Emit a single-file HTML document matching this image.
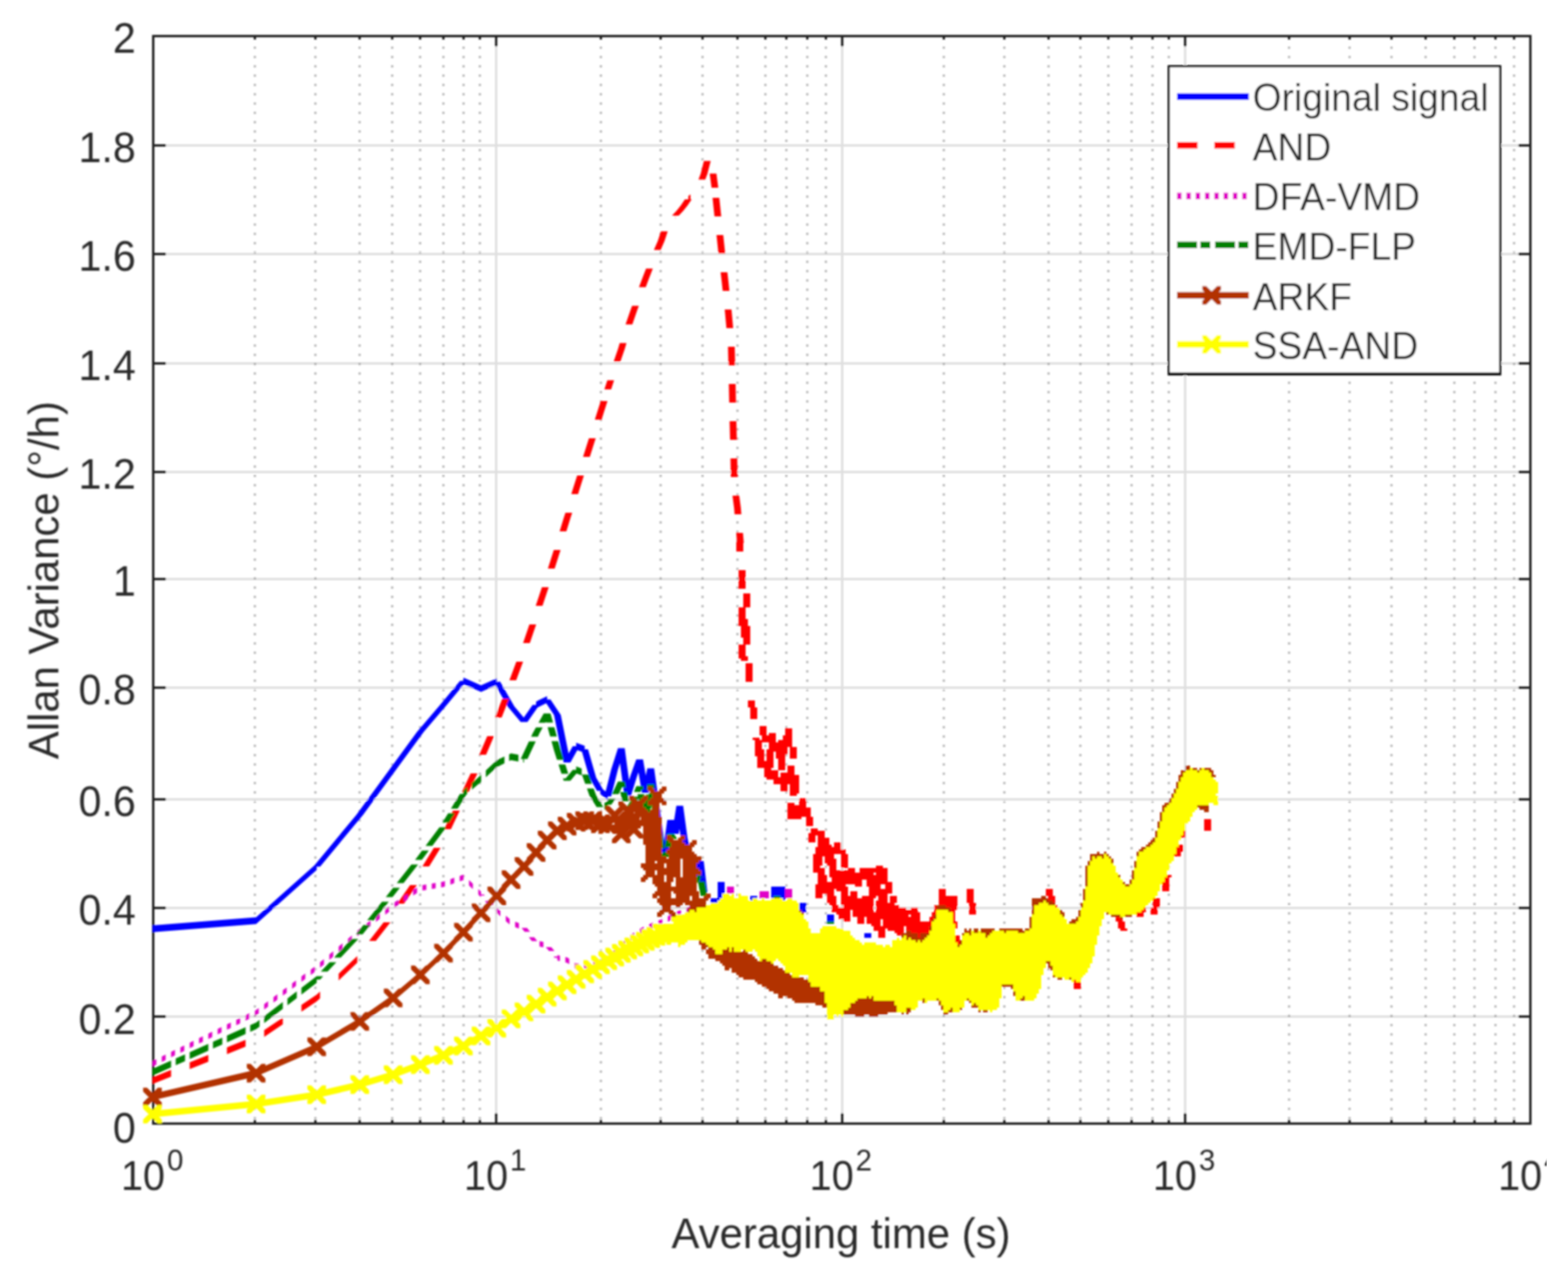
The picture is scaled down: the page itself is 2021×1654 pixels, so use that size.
<!DOCTYPE html>
<html lang="en"><head><meta charset="utf-8"><title>Allan Variance</title>
<style>
html,body{margin:0;padding:0;background:#fff;width:2021px;height:1654px;overflow:hidden}
svg text{font-family:"Liberation Sans",Arial,Helvetica,sans-serif}
</style></head>
<body>
<svg xmlns="http://www.w3.org/2000/svg" width="2021" height="1654" viewBox="0 0 2021 1654" style="position:absolute;left:0;top:0;display:block">
<defs><filter id="soft" filterUnits="userSpaceOnUse" x="0" y="0" width="2021" height="1654"><feGaussianBlur stdDeviation="0.8"/></filter></defs>
<rect x="0" y="0" width="2021" height="1654" fill="#fff"/>
<g id="figure" filter="url(#soft)">
<g id="grid" shape-rendering="crispEdges" fill="none">
<line x1="639.6" y1="46.5" x2="639.6" y2="1448.6" stroke="#dfdfdf" stroke-width="3"/>
<line x1="1085.1" y1="46.5" x2="1085.1" y2="1448.6" stroke="#dfdfdf" stroke-width="3"/>
<line x1="1527.5" y1="46.5" x2="1527.5" y2="1448.6" stroke="#dfdfdf" stroke-width="3"/>
<line x1="197.5" y1="187.0" x2="1972.5" y2="187.0" stroke="#dfdfdf" stroke-width="3"/>
<line x1="197.5" y1="327.5" x2="1972.5" y2="327.5" stroke="#dfdfdf" stroke-width="3"/>
<line x1="197.5" y1="468.0" x2="1972.5" y2="468.0" stroke="#dfdfdf" stroke-width="3"/>
<line x1="197.5" y1="608.4" x2="1972.5" y2="608.4" stroke="#dfdfdf" stroke-width="3"/>
<line x1="197.5" y1="746.1" x2="1972.5" y2="746.1" stroke="#dfdfdf" stroke-width="3"/>
<line x1="197.5" y1="886.5" x2="1972.5" y2="886.5" stroke="#dfdfdf" stroke-width="3"/>
<line x1="197.5" y1="1030.1" x2="1972.5" y2="1030.1" stroke="#dfdfdf" stroke-width="3"/>
<line x1="197.5" y1="1170.5" x2="1972.5" y2="1170.5" stroke="#dfdfdf" stroke-width="3"/>
<line x1="197.5" y1="1310.8" x2="1972.5" y2="1310.8" stroke="#dfdfdf" stroke-width="3"/>
<line x1="328.8" y1="48" x2="328.8" y2="1448.6" stroke="#000" stroke-opacity="0.27" stroke-width="3" stroke-dasharray="3 9"/>
<line x1="406.5" y1="48" x2="406.5" y2="1448.6" stroke="#000" stroke-opacity="0.27" stroke-width="3" stroke-dasharray="3 9"/>
<line x1="463.4" y1="48" x2="463.4" y2="1448.6" stroke="#000" stroke-opacity="0.27" stroke-width="3" stroke-dasharray="3 9"/>
<line x1="505.5" y1="48" x2="505.5" y2="1448.6" stroke="#000" stroke-opacity="0.27" stroke-width="3" stroke-dasharray="3 9"/>
<line x1="541.1" y1="48" x2="541.1" y2="1448.6" stroke="#000" stroke-opacity="0.27" stroke-width="3" stroke-dasharray="3 9"/>
<line x1="571.0" y1="48" x2="571.0" y2="1448.6" stroke="#000" stroke-opacity="0.27" stroke-width="3" stroke-dasharray="3 9"/>
<line x1="597.8" y1="48" x2="597.8" y2="1448.6" stroke="#000" stroke-opacity="0.27" stroke-width="3" stroke-dasharray="3 9"/>
<line x1="618.7" y1="48" x2="618.7" y2="1448.6" stroke="#000" stroke-opacity="0.27" stroke-width="3" stroke-dasharray="3 9"/>
<line x1="774.4" y1="48" x2="774.4" y2="1448.6" stroke="#000" stroke-opacity="0.27" stroke-width="3" stroke-dasharray="3 9"/>
<line x1="851.8" y1="48" x2="851.8" y2="1448.6" stroke="#000" stroke-opacity="0.27" stroke-width="3" stroke-dasharray="3 9"/>
<line x1="905.6" y1="48" x2="905.6" y2="1448.6" stroke="#000" stroke-opacity="0.27" stroke-width="3" stroke-dasharray="3 9"/>
<line x1="950.5" y1="48" x2="950.5" y2="1448.6" stroke="#000" stroke-opacity="0.27" stroke-width="3" stroke-dasharray="3 9"/>
<line x1="986.4" y1="48" x2="986.4" y2="1448.6" stroke="#000" stroke-opacity="0.27" stroke-width="3" stroke-dasharray="3 9"/>
<line x1="1013.4" y1="48" x2="1013.4" y2="1448.6" stroke="#000" stroke-opacity="0.27" stroke-width="3" stroke-dasharray="3 9"/>
<line x1="1040.1" y1="48" x2="1040.1" y2="1448.6" stroke="#000" stroke-opacity="0.27" stroke-width="3" stroke-dasharray="3 9"/>
<line x1="1064.2" y1="48" x2="1064.2" y2="1448.6" stroke="#000" stroke-opacity="0.27" stroke-width="3" stroke-dasharray="3 9"/>
<line x1="1216.6" y1="48" x2="1216.6" y2="1448.6" stroke="#000" stroke-opacity="0.27" stroke-width="3" stroke-dasharray="3 9"/>
<line x1="1294.4" y1="48" x2="1294.4" y2="1448.6" stroke="#000" stroke-opacity="0.27" stroke-width="3" stroke-dasharray="3 9"/>
<line x1="1351.1" y1="48" x2="1351.1" y2="1448.6" stroke="#000" stroke-opacity="0.27" stroke-width="3" stroke-dasharray="3 9"/>
<line x1="1392.9" y1="48" x2="1392.9" y2="1448.6" stroke="#000" stroke-opacity="0.27" stroke-width="3" stroke-dasharray="3 9"/>
<line x1="1428.6" y1="48" x2="1428.6" y2="1448.6" stroke="#000" stroke-opacity="0.27" stroke-width="3" stroke-dasharray="3 9"/>
<line x1="1458.5" y1="48" x2="1458.5" y2="1448.6" stroke="#000" stroke-opacity="0.27" stroke-width="3" stroke-dasharray="3 9"/>
<line x1="1485.5" y1="48" x2="1485.5" y2="1448.6" stroke="#000" stroke-opacity="0.27" stroke-width="3" stroke-dasharray="3 9"/>
<line x1="1506.4" y1="48" x2="1506.4" y2="1448.6" stroke="#000" stroke-opacity="0.27" stroke-width="3" stroke-dasharray="3 9"/>
<line x1="1661.8" y1="48" x2="1661.8" y2="1448.6" stroke="#000" stroke-opacity="0.27" stroke-width="3" stroke-dasharray="3 9"/>
<line x1="1739.5" y1="48" x2="1739.5" y2="1448.6" stroke="#000" stroke-opacity="0.27" stroke-width="3" stroke-dasharray="3 9"/>
<line x1="1793.3" y1="48" x2="1793.3" y2="1448.6" stroke="#000" stroke-opacity="0.27" stroke-width="3" stroke-dasharray="3 9"/>
<line x1="1837.9" y1="48" x2="1837.9" y2="1448.6" stroke="#000" stroke-opacity="0.27" stroke-width="3" stroke-dasharray="3 9"/>
<line x1="1874.1" y1="48" x2="1874.1" y2="1448.6" stroke="#000" stroke-opacity="0.27" stroke-width="3" stroke-dasharray="3 9"/>
<line x1="1900.9" y1="48" x2="1900.9" y2="1448.6" stroke="#000" stroke-opacity="0.27" stroke-width="3" stroke-dasharray="3 9"/>
<line x1="1927.8" y1="48" x2="1927.8" y2="1448.6" stroke="#000" stroke-opacity="0.27" stroke-width="3" stroke-dasharray="3 9"/>
<line x1="1951.8" y1="48" x2="1951.8" y2="1448.6" stroke="#000" stroke-opacity="0.27" stroke-width="3" stroke-dasharray="3 9"/>
</g>
<g id="axes" shape-rendering="crispEdges" stroke="#1c1c1c" stroke-width="3" fill="none">
<rect x="197.5" y="46.5" width="1775.0" height="1402.1"/>
<line x1="328.8" y1="1448.6" x2="328.8" y2="1444.1"/>
<line x1="328.8" y1="46.5" x2="328.8" y2="51.0"/>
<line x1="406.5" y1="1448.6" x2="406.5" y2="1444.1"/>
<line x1="406.5" y1="46.5" x2="406.5" y2="51.0"/>
<line x1="463.4" y1="1448.6" x2="463.4" y2="1444.1"/>
<line x1="463.4" y1="46.5" x2="463.4" y2="51.0"/>
<line x1="505.5" y1="1448.6" x2="505.5" y2="1444.1"/>
<line x1="505.5" y1="46.5" x2="505.5" y2="51.0"/>
<line x1="541.1" y1="1448.6" x2="541.1" y2="1444.1"/>
<line x1="541.1" y1="46.5" x2="541.1" y2="51.0"/>
<line x1="571.0" y1="1448.6" x2="571.0" y2="1444.1"/>
<line x1="571.0" y1="46.5" x2="571.0" y2="51.0"/>
<line x1="597.8" y1="1448.6" x2="597.8" y2="1444.1"/>
<line x1="597.8" y1="46.5" x2="597.8" y2="51.0"/>
<line x1="618.7" y1="1448.6" x2="618.7" y2="1444.1"/>
<line x1="618.7" y1="46.5" x2="618.7" y2="51.0"/>
<line x1="639.6" y1="1448.6" x2="639.6" y2="1435.1"/>
<line x1="639.6" y1="46.5" x2="639.6" y2="60.0"/>
<line x1="774.4" y1="1448.6" x2="774.4" y2="1444.1"/>
<line x1="774.4" y1="46.5" x2="774.4" y2="51.0"/>
<line x1="851.8" y1="1448.6" x2="851.8" y2="1444.1"/>
<line x1="851.8" y1="46.5" x2="851.8" y2="51.0"/>
<line x1="905.6" y1="1448.6" x2="905.6" y2="1444.1"/>
<line x1="905.6" y1="46.5" x2="905.6" y2="51.0"/>
<line x1="950.5" y1="1448.6" x2="950.5" y2="1444.1"/>
<line x1="950.5" y1="46.5" x2="950.5" y2="51.0"/>
<line x1="986.4" y1="1448.6" x2="986.4" y2="1444.1"/>
<line x1="986.4" y1="46.5" x2="986.4" y2="51.0"/>
<line x1="1013.4" y1="1448.6" x2="1013.4" y2="1444.1"/>
<line x1="1013.4" y1="46.5" x2="1013.4" y2="51.0"/>
<line x1="1040.1" y1="1448.6" x2="1040.1" y2="1444.1"/>
<line x1="1040.1" y1="46.5" x2="1040.1" y2="51.0"/>
<line x1="1064.2" y1="1448.6" x2="1064.2" y2="1444.1"/>
<line x1="1064.2" y1="46.5" x2="1064.2" y2="51.0"/>
<line x1="1085.1" y1="1448.6" x2="1085.1" y2="1435.1"/>
<line x1="1085.1" y1="46.5" x2="1085.1" y2="60.0"/>
<line x1="1216.6" y1="1448.6" x2="1216.6" y2="1444.1"/>
<line x1="1216.6" y1="46.5" x2="1216.6" y2="51.0"/>
<line x1="1294.4" y1="1448.6" x2="1294.4" y2="1444.1"/>
<line x1="1294.4" y1="46.5" x2="1294.4" y2="51.0"/>
<line x1="1351.1" y1="1448.6" x2="1351.1" y2="1444.1"/>
<line x1="1351.1" y1="46.5" x2="1351.1" y2="51.0"/>
<line x1="1392.9" y1="1448.6" x2="1392.9" y2="1444.1"/>
<line x1="1392.9" y1="46.5" x2="1392.9" y2="51.0"/>
<line x1="1428.6" y1="1448.6" x2="1428.6" y2="1444.1"/>
<line x1="1428.6" y1="46.5" x2="1428.6" y2="51.0"/>
<line x1="1458.5" y1="1448.6" x2="1458.5" y2="1444.1"/>
<line x1="1458.5" y1="46.5" x2="1458.5" y2="51.0"/>
<line x1="1485.5" y1="1448.6" x2="1485.5" y2="1444.1"/>
<line x1="1485.5" y1="46.5" x2="1485.5" y2="51.0"/>
<line x1="1506.4" y1="1448.6" x2="1506.4" y2="1444.1"/>
<line x1="1506.4" y1="46.5" x2="1506.4" y2="51.0"/>
<line x1="1527.5" y1="1448.6" x2="1527.5" y2="1435.1"/>
<line x1="1527.5" y1="46.5" x2="1527.5" y2="60.0"/>
<line x1="1661.8" y1="1448.6" x2="1661.8" y2="1444.1"/>
<line x1="1661.8" y1="46.5" x2="1661.8" y2="51.0"/>
<line x1="1739.5" y1="1448.6" x2="1739.5" y2="1444.1"/>
<line x1="1739.5" y1="46.5" x2="1739.5" y2="51.0"/>
<line x1="1793.3" y1="1448.6" x2="1793.3" y2="1444.1"/>
<line x1="1793.3" y1="46.5" x2="1793.3" y2="51.0"/>
<line x1="1837.9" y1="1448.6" x2="1837.9" y2="1444.1"/>
<line x1="1837.9" y1="46.5" x2="1837.9" y2="51.0"/>
<line x1="1874.1" y1="1448.6" x2="1874.1" y2="1444.1"/>
<line x1="1874.1" y1="46.5" x2="1874.1" y2="51.0"/>
<line x1="1900.9" y1="1448.6" x2="1900.9" y2="1444.1"/>
<line x1="1900.9" y1="46.5" x2="1900.9" y2="51.0"/>
<line x1="1927.8" y1="1448.6" x2="1927.8" y2="1444.1"/>
<line x1="1927.8" y1="46.5" x2="1927.8" y2="51.0"/>
<line x1="1951.8" y1="1448.6" x2="1951.8" y2="1444.1"/>
<line x1="1951.8" y1="46.5" x2="1951.8" y2="51.0"/>
<line x1="197.5" y1="187.0" x2="213.5" y2="187.0"/>
<line x1="1972.5" y1="187.0" x2="1956.5" y2="187.0"/>
<line x1="197.5" y1="327.5" x2="213.5" y2="327.5"/>
<line x1="1972.5" y1="327.5" x2="1956.5" y2="327.5"/>
<line x1="197.5" y1="468.0" x2="213.5" y2="468.0"/>
<line x1="1972.5" y1="468.0" x2="1956.5" y2="468.0"/>
<line x1="197.5" y1="608.4" x2="213.5" y2="608.4"/>
<line x1="1972.5" y1="608.4" x2="1956.5" y2="608.4"/>
<line x1="197.5" y1="746.1" x2="213.5" y2="746.1"/>
<line x1="1972.5" y1="746.1" x2="1956.5" y2="746.1"/>
<line x1="197.5" y1="886.5" x2="213.5" y2="886.5"/>
<line x1="1972.5" y1="886.5" x2="1956.5" y2="886.5"/>
<line x1="197.5" y1="1030.1" x2="213.5" y2="1030.1"/>
<line x1="1972.5" y1="1030.1" x2="1956.5" y2="1030.1"/>
<line x1="197.5" y1="1170.5" x2="213.5" y2="1170.5"/>
<line x1="1972.5" y1="1170.5" x2="1956.5" y2="1170.5"/>
<line x1="197.5" y1="1310.8" x2="213.5" y2="1310.8"/>
<line x1="1972.5" y1="1310.8" x2="1956.5" y2="1310.8"/>
</g>
<g id="curves">
<g id="c-original"><path d="M196.5 1193.1L330.1 1182.6L330.1 1191.2L196.5 1201.8zM330.1 1182.6L408.2 1112.9L408.2 1121.5L330.1 1191.2zM403.9 1117.2L459.3 1050.4L468 1050.4L412.6 1117.2zM459.3 1050.4L502.4 991.5L511.1 991.5L468 1050.4zM502.4 991.5L537.5 943.6L546.2 943.6L511.1 991.5zM537.5 943.6L567.2 908.7L575.9 908.7L546.2 943.6zM567.2 908.7L592.9 877.8L601.6 877.8L575.9 908.7zM597.3 873.4L620 883.4L620 892.1L597.3 882.1zM620 883.4L640.3 874.4L640.3 883.1L620 892.1zM644.6 878.8L663 910.7L654.3 910.7L635.9 878.8zM663 910.7L679.8 930.7L671.1 930.7L654.3 910.7zM671.1 930.7L686.5 908.7L695.2 908.7L679.8 930.7zM690.9 904.4L705.2 897.4L705.2 906.1L690.9 913.1zM709.5 901.7L722.8 921.7L714.1 921.7L700.8 901.7zM722.8 921.7L735.2 983L726.5 983L714.1 921.7zM726.5 983L738.2 962L746.9 962L735.2 983zM742.6 957.6L753.6 961.6L753.6 970.4L742.6 966.4zM757.9 966L768.4 1002.5L759.7 1002.5L749.2 966zM768.4 1002.5L778.2 1019.5L769.5 1019.5L759.7 1002.5zM773.9 1015.1L783.3 1022.4L783.3 1031L773.9 1023.9zM779 1026.7L787.9 991.4L796.6 991.4L787.7 1026.7zM787.9 991.4L796.5 964.5L805.2 964.5L796.6 991.4zM805.2 964.5L813.4 1025.5L804.7 1025.5L796.5 964.5zM804.7 1025.5L812.6 1000L821.3 1000L813.4 1025.5zM812.6 1000L820.1 979L828.8 979L821.3 1000zM828.8 979L836.1 1022L827.4 1022L820.1 979zM827.4 1022L834.4 990.5L843.1 990.5L836.1 1022zM843.1 990.5L849.9 1039L841.2 1039L834.4 990.5zM849.9 1039L856.4 1087L847.7 1087L841.2 1039zM856.4 1087L862.7 1100L854 1100L847.7 1087zM854 1100L860.1 1057L868.8 1057L862.7 1100zM868.8 1057L874.8 1075L866.1 1075L860.1 1057zM866.1 1075L871.8 1038.8L880.5 1038.8L874.8 1075zM880.5 1038.8L886.1 1080L877.4 1080L871.8 1038.8zM886.1 1080L891.5 1105L882.8 1105L877.4 1080zM891.5 1105L896.8 1123L888.1 1123L882.8 1105zM896.8 1123L902 1130L893.3 1130L888.1 1123zM893.3 1130L898.3 1110L907 1110L902 1130zM907 1110L911.8 1150L903.1 1150L898.3 1110z" fill="#0000ff"/><path shape-rendering="crispEdges" fill="#0000ff" d="M925 1137h9v15h-9zM994 1143h18v12h-18zM925 1152h6v6h-6zM967 1155h9v3h-9zM994 1155h3v3h-3zM1006 1155h6v3h-6zM916 1158h12v3h-12zM967 1158h3v3h-3zM1009 1158h3v3h-3zM916 1161h9v3h-9zM1030 1164h9v9h-9zM1033 1173h6v3h-6zM1066 1179h9v9h-9zM1114 1203h9v6h-9z"/></g>
<g id="c-and"><path d="M196.5 1389L220.5 1379.3L220.5 1388L196.5 1397.6zM244.5 1369.6L268.5 1360L268.5 1368.7L244.5 1378.3zM292.5 1350.3L316.5 1340.6L316.5 1349.3L292.5 1359zM340.5 1328.1L364.5 1311.9L364.5 1320.6L340.5 1336.8zM388.5 1295.6L408.2 1282.2L408.2 1290.9L388.5 1304.3zM408.2 1282.2L412.5 1278.2L412.5 1286.9L408.2 1290.9zM436.5 1255.3L460.5 1232.4L460.5 1241.1L436.5 1264zM475.7 1212.9L494.5 1188.9L503.2 1188.9L484.4 1212.9zM512 1164.9L528.6 1140.9L537.3 1140.9L520.7 1164.9zM544.4 1116.9L559.2 1092.9L567.9 1092.9L553.1 1116.9zM572.5 1068.9L583.9 1044.9L592.6 1044.9L581.2 1068.9zM595.4 1020.9L606.7 996.9L615.4 996.9L604.1 1020.9zM617.8 972.9L628 948.9L636.7 948.9L626.5 972.9zM637.9 924.9L647.3 900.9L656 900.9L646.6 924.9zM656.6 876.9L665.5 852.9L674.2 852.9L665.3 876.9zM674.2 828.9L682.4 804.9L691.1 804.9L682.9 828.9zM690.5 780.9L698.5 756.9L707.2 756.9L699.2 780.9zM706.2 732.9L713.8 708.9L722.5 708.9L714.9 732.9zM721.3 684.9L726.5 668L735.2 668L730 684.9zM726.5 668L728.8 660.9L737.5 660.9L735.2 668zM736.4 636.9L738.2 631L746.9 631L745.1 636.9zM738.2 631L743.9 612.9L752.6 612.9L746.9 631zM751.5 588.9L759.1 564.9L767.8 564.9L760.2 588.9zM766.7 540.9L769.5 532L778.2 532L775.4 540.9zM769.5 532L774.3 516.9L783 516.9L778.2 532zM779 502L782.8 490.3L791.5 490.3L787.7 502zM790.9 466.3L796.5 450L805.2 450L799.6 466.3zM796.5 450L798.8 442.3L807.5 442.3L805.2 450zM806.3 418.3L812.6 400L821.3 400L815 418.3zM812.6 400L814.7 394.3L823.4 394.3L821.3 400zM823.6 370.3L827.4 360L836.1 360L832.3 370.3zM827.4 360L832.7 346.3L841.4 346.3L836.1 360zM842.8 322.3L847.7 311L856.4 311L851.5 322.3zM847.7 311L851.9 298.3L860.6 298.3L856.4 311zM870.2 273.7L870.4 273.6L870.4 282.4L870.2 282.4zM866.1 278L871.8 272L880.5 272L874.8 278zM871.8 272L877.4 265L886.1 265L880.5 272zM877.4 265L882.8 257L891.5 257L886.1 265zM887.2 252.7L890 250.6L890 259.3L887.2 261.4zM900.3 231.5L903.1 224L911.8 224L909 231.5zM903.1 224L907.3 207.5L916 207.5L911.8 224zM923.4 223.8L925.8 242L917.1 242L914.7 223.8zM927.1 254.9L929.6 278.9L920.9 278.9L918.4 254.9zM932.2 302.9L934.5 325L925.8 325L923.5 302.9zM934.5 325L934.8 326.9L926.1 326.9L925.8 325zM937.5 350.9L938.8 362L930.1 362L928.8 350.9zM938.8 362L940.2 374.9L931.5 374.9L930.1 362zM942.8 398.9L942.9 400L934.2 400L934.1 398.9zM942.9 400L945 422.9L936.3 422.9L934.2 400zM947 446.9L947.6 470.9L938.9 470.9L938.3 446.9zM948.1 494.9L948.6 518.9L939.9 518.9L939.4 494.9zM949.1 542.9L949.7 566.9L941 566.9L940.4 542.9zM950.2 590.9L950.7 614.9L942 614.9L941.5 590.9zM952.8 638.9L954.9 655L946.2 655L944.1 638.9zM954.9 655L955.5 662.9L946.8 662.9L946.2 655zM957.6 686.9L958.7 700L950 700L948.9 686.9z" fill="#ff0000"/><path shape-rendering="crispEdges" fill="#ff0000" d="M949 699h9v12h-9zM952 735h9v24h-9zM958 765h9v18h-9zM952 783h9v15h-9zM952 798h12v9h-12zM955 807h12v15h-12zM958 822h9v9h-9zM952 831h9v15h-9zM952 846h12v3h-12zM955 849h9v3h-9zM961 855h9v24h-9zM964 903h9v9h-9zM967 912h9v15h-9zM979 936h9v12h-9zM1012 939h9v9h-9zM991 945h9v3h-9zM982 948h18v6h-18zM1009 948h12v6h-12zM970 951h9v3h-9zM973 954h27v3h-27zM1003 954h18v3h-18zM973 957h9v9h-9zM991 957h30v6h-30zM991 963h24v3h-24zM1018 963h9v15h-9zM973 966h12v9h-12zM988 966h27v3h-27zM988 969h9v12h-9zM1000 969h15v3h-15zM1000 972h12v6h-12zM976 975h9v6h-9zM1003 978h9v15h-9zM976 981h21v9h-21zM1015 987h9v9h-9zM985 990h9v3h-9zM985 993h18v9h-18zM1006 996h18v3h-18zM1006 999h24v3h-24zM988 1002h42v3h-42zM997 1005h33v6h-33zM1006 1011h9v9h-9zM1018 1011h12v12h-12zM1018 1023h9v3h-9zM1030 1029h9v9h-9zM1015 1035h9v3h-9zM1015 1038h24v3h-24zM1015 1041h30v12h-30zM1015 1053h18v3h-18zM1039 1053h9v12h-9zM1552 1056h9v15h-9zM1045 1068h9v3h-9zM1045 1071h18v3h-18zM1525 1071h3v6h-3zM1042 1074h21v3h-21zM1042 1077h9v9h-9zM1054 1077h9v3h-9zM1522 1077h6v3h-6zM1054 1080h15v9h-15zM1075 1086h9v6h-9zM1054 1089h18v3h-18zM1519 1089h6v3h-6zM1051 1092h33v3h-33zM1516 1092h9v6h-9zM1051 1095h39v6h-39zM1516 1098h6v3h-6zM1048 1101h27v3h-27zM1084 1101h9v18h-9zM1513 1101h9v3h-9zM1048 1104h12v12h-12zM1063 1104h12v3h-12zM1063 1107h15v6h-15zM1066 1113h12v3h-12zM1048 1116h9v3h-9zM1069 1116h9v6h-9zM1129 1116h9v3h-9zM1048 1119h15v6h-15zM1093 1119h9v3h-9zM1108 1119h36v6h-36zM1069 1122h33v3h-33zM1054 1125h9v3h-9zM1069 1125h57v3h-57zM1129 1125h15v3h-15zM1054 1128h12v9h-12zM1069 1128h75v3h-75zM1504 1128h6v3h-6zM1072 1131h72v3h-72zM1501 1131h6v6h-6zM1072 1134h39v3h-39zM1117 1134h27v3h-27zM1054 1137h57v3h-57zM1117 1137h33v3h-33zM1498 1137h9v12h-9zM1051 1140h39v3h-39zM1102 1140h9v3h-9zM1117 1140h18v3h-18zM1141 1140h9v6h-9zM1051 1143h42v3h-42zM1120 1143h15v3h-15zM1051 1146h24v6h-24zM1078 1146h15v3h-15zM1120 1146h30v6h-30zM1210 1146h9v9h-9zM1246 1146h9v18h-9zM1348 1146h9v9h-9zM1084 1149h9v6h-9zM1096 1149h9v6h-9zM1051 1152h9v6h-9zM1066 1152h9v3h-9zM1120 1152h24v3h-24zM1066 1155h12v9h-12zM1084 1155h21v3h-21zM1111 1155h18v3h-18zM1132 1155h12v6h-12zM1147 1155h9v9h-9zM1210 1155h24v12h-24zM1351 1155h9v6h-9zM1084 1158h42v9h-42zM1486 1158h9v12h-9zM1129 1161h15v3h-15zM1357 1161h3v3h-3zM1069 1164h9v3h-9zM1129 1164h24v3h-24zM1249 1164h9v15h-9zM1072 1167h9v3h-9zM1087 1167h39v3h-39zM1129 1167h30v3h-30zM1204 1167h3v9h-3zM1219 1167h15v3h-15zM1360 1167h3v3h-3zM1072 1170h54v3h-54zM1129 1170h39v3h-39zM1174 1170h9v3h-9zM1225 1170h9v3h-9zM1474 1170h3v3h-3zM1483 1170h9v9h-9zM1072 1173h24v3h-24zM1099 1173h27v3h-27zM1129 1173h54v3h-54zM1225 1173h6v3h-6zM1471 1173h6v3h-6zM1078 1176h18v3h-18zM1099 1176h87v3h-87zM1201 1176h6v3h-6zM1228 1176h3v12h-3zM1465 1176h9v6h-9zM1081 1179h15v6h-15zM1099 1179h72v3h-72zM1174 1179h12v3h-12zM1201 1179h3v3h-3zM1105 1182h9v9h-9zM1117 1182h69v3h-69zM1198 1182h6v3h-6zM1438 1182h6v3h-6zM1087 1185h9v3h-9zM1117 1185h18v6h-18zM1138 1185h48v3h-48zM1198 1185h3v3h-3zM1438 1185h9v3h-9zM1138 1188h63v6h-63zM1228 1188h6v3h-6zM1441 1188h9v9h-9zM1123 1191h12v3h-12zM1231 1191h3v6h-3zM1126 1194h39v3h-39zM1168 1194h30v6h-30zM1126 1197h15v3h-15zM1144 1197h21v3h-21zM1444 1197h9v3h-9zM1132 1200h9v9h-9zM1153 1200h12v3h-12zM1174 1200h24v3h-24zM1156 1203h6v3h-6zM1183 1203h3v6h-3zM1231 1206h6v9h-6zM1234 1215h3v3h-3zM1384 1263h3v3h-3zM1384 1266h9v9h-9z"/></g>
<g id="c-dfa-vmd"><path d="M196.5 1367.9L201.5 1365.4L201.5 1372.4L196.5 1374.9zM208.5 1362L213.5 1359.5L213.5 1366.5L208.5 1369zM220.5 1356.1L225.5 1353.6L225.5 1360.6L220.5 1363.1zM232.5 1350.2L237.5 1347.7L237.5 1354.7L232.5 1357.2zM244.5 1344.3L249.5 1341.8L249.5 1348.8L244.5 1351.3zM256.5 1338.3L261.5 1335.9L261.5 1342.9L256.5 1345.3zM268.5 1332.4L273.5 1330L273.5 1337L268.5 1339.4zM280.5 1326.5L285.5 1324.1L285.5 1331.1L280.5 1333.5zM292.5 1320.6L297.5 1318.2L297.5 1325.2L292.5 1327.6zM304.5 1314.7L309.5 1312.2L309.5 1319.2L304.5 1321.7zM316.5 1308.8L321.5 1306.3L321.5 1313.3L316.5 1315.8zM328.5 1302.9L330.1 1302.1L330.1 1309.1L328.5 1309.9zM330.1 1302.1L333.5 1299.6L333.5 1306.6L330.1 1309.1zM340.5 1294.4L345.5 1290.7L345.5 1297.7L340.5 1301.4zM352.5 1285.5L357.5 1281.8L357.5 1288.8L352.5 1292.5zM364.5 1276.6L369.5 1272.9L369.5 1279.9L364.5 1283.6zM376.5 1267.7L381.5 1264L381.5 1271L376.5 1274.7zM388.5 1258.8L393.5 1255.1L393.5 1262.1L388.5 1265.8zM400.5 1249.9L405.5 1246.2L405.5 1253.2L400.5 1256.9zM412.5 1240.6L417.5 1236.4L417.5 1243.4L412.5 1247.6zM424.5 1230.5L429.5 1226.2L429.5 1233.2L424.5 1237.5zM436.5 1220.3L441.5 1216.1L441.5 1223.1L436.5 1227.3zM448.5 1210.2L453.5 1205.9L453.5 1212.9L448.5 1217.2zM460.5 1200L463.7 1197.3L463.7 1204.3L460.5 1207zM463.7 1197.3L465.5 1195.9L465.5 1202.9L463.7 1204.3zM472.5 1190.6L477.5 1186.7L477.5 1193.7L472.5 1197.6zM484.5 1181.4L489.5 1177.6L489.5 1184.6L484.5 1188.4zM496.5 1172.2L501.5 1168.4L501.5 1175.4L496.5 1179.2zM508.5 1163.2L513.5 1160L513.5 1167L508.5 1170.2zM520.5 1155.4L525.5 1152.2L525.5 1159.2L520.5 1162.4zM532.5 1147.6L537.5 1144.3L537.5 1151.3L532.5 1154.6zM544.5 1141.1L549.5 1140.2L549.5 1147.2L544.5 1148.1zM556.5 1139L561.5 1138.2L561.5 1145.2L556.5 1146zM568.5 1137L571.6 1136.5L571.6 1143.5L568.5 1144zM571.6 1136.5L573.5 1135.8L573.5 1142.8L571.6 1143.5zM580.5 1133.4L585.5 1131.6L585.5 1138.6L580.5 1140.4zM592.5 1129.2L597.3 1127.5L597.3 1134.5L592.5 1136.2zM597.3 1127.5L597.5 1127.7L597.5 1134.7L597.3 1134.5zM604.5 1134.5L609.5 1139.3L609.5 1146.3L604.5 1141.5zM616.5 1146L620 1149.4L620 1156.4L616.5 1153zM623.5 1152.9L625 1154.4L618 1154.4L616.5 1152.9zM631.8 1161.4L636.6 1166.4L629.6 1166.4L624.8 1161.4zM643.4 1173.4L643.8 1173.8L636.8 1173.8L636.4 1173.4zM640.3 1170.3L644.9 1174.3L644.9 1181.3L640.3 1177.3zM651.9 1180.4L656.9 1184.8L656.9 1191.8L651.9 1187.4zM663.9 1188.2L668.9 1190L668.9 1197L663.9 1195.2zM679.3 1196.3L683.2 1201.3L676.2 1201.3L672.3 1196.3zM688.6 1208.3L692.5 1213.3L685.5 1213.3L681.6 1208.3zM695.4 1213.2L700.4 1214.2L700.4 1221.2L695.4 1220.2zM710.5 1221L714.7 1226L707.7 1226L703.5 1221zM720.5 1233L721.9 1234.7L714.9 1234.7L713.5 1233zM718.4 1231.2L721.7 1232L721.7 1239L718.4 1238.2zM728.7 1233.7L730.9 1234.2L730.9 1241.2L728.7 1240.7zM730.9 1234.2L733.7 1236.1L733.7 1243.1L730.9 1241.2zM740.7 1240.9L742.6 1242.2L742.6 1249.2L740.7 1247.9zM742.6 1242.2L745.7 1242L745.7 1249L742.6 1249.2zM752.7 1241.6L753.6 1241.5L753.6 1248.5L752.7 1248.6zM753.6 1241.5L757.7 1240.7L757.7 1247.7L753.6 1248.5zM764.7 1239.3L769.7 1237.8L769.7 1244.8L764.7 1246.3zM776.7 1234.7L781.7 1231.5L781.7 1238.5L776.7 1241.7zM788.7 1226.9L792.3 1224.5L792.3 1231.5L788.7 1233.9zM792.3 1224.5L793.7 1223.1L793.7 1230.1L792.3 1231.5zM800.7 1216.6L800.8 1216.5L800.8 1223.5L800.7 1223.6zM800.8 1216.5L805.7 1211.7L805.7 1218.7L800.8 1223.5zM812.7 1205.7L816.9 1202.5L816.9 1209.5L812.7 1212.7zM816.9 1202.5L817.7 1202L817.7 1209L816.9 1209.5zM824.7 1197.4L829.7 1194.6L829.7 1201.6L824.7 1204.4zM836.7 1191.4L838.7 1190.5L838.7 1197.5L836.7 1198.4zM838.7 1190.5L841.7 1189.2L841.7 1196.2L838.7 1197.5zM848.7 1186.5L852 1185.5L852 1192.5L848.7 1193.5zM852 1185.5L853.7 1184.7L853.7 1191.7L852 1192.5zM860.7 1181.3L864.5 1179.5L864.5 1186.5L860.7 1188.3zM864.5 1179.5L865.7 1178.7L865.7 1185.7L864.5 1186.5zM872.7 1174.7L876.2 1173.5L876.2 1180.5L872.7 1181.7zM876.2 1173.5L877.7 1172.9L877.7 1179.9L876.2 1180.5zM884.7 1170.4L887.2 1169.5L887.2 1176.5L884.7 1177.4zM887.2 1169.5L889.7 1168.5L889.7 1175.5L887.2 1176.5zM896.7 1166.7L897.6 1166.5L897.6 1173.5L896.7 1173.7zM897.6 1166.5L901.7 1164.9L901.7 1171.9L897.6 1173.5z" fill="#e000c8"/><path shape-rendering="crispEdges" fill="#e000c8" d="M937 1143h9v9h-9zM1012 1146h9v12h-9zM979 1149h12v9h-12z"/></g>
<g id="c-emd-flp"><path d="M196.5 1378.1L220.5 1367.3L220.5 1376L196.5 1386.8zM226.5 1364.6L238.5 1359.2L238.5 1367.9L226.5 1373.3zM244.5 1356.5L268.5 1345.8L268.5 1354.5L244.5 1365.2zM274.5 1343.1L286.5 1337.7L286.5 1346.4L274.5 1351.8zM292.5 1335L316.5 1324.2L316.5 1332.9L292.5 1343.7zM322.5 1321.6L330.1 1318.2L330.1 1326.8L322.5 1330.3zM330.1 1318.2L334.5 1314.8L334.5 1323.5L330.1 1326.8zM340.5 1310.2L364.5 1291.8L364.5 1300.5L340.5 1318.9zM370.5 1287.2L382.5 1278.1L382.5 1286.8L370.5 1295.9zM388.5 1273.5L408.2 1258.4L408.2 1267L388.5 1282.2zM403.9 1262.7L407.9 1258.4L416.6 1258.4L412.6 1262.7zM413.5 1252.4L424.8 1240.4L433.5 1240.4L422.2 1252.4zM430.5 1234.4L453.1 1210.4L461.8 1210.4L439.2 1234.4zM458.7 1204.4L459.3 1203.8L468 1203.8L467.4 1204.4zM459.3 1203.8L468.4 1192.4L477.1 1192.4L468 1203.8zM473.2 1186.4L492.4 1162.4L501.1 1162.4L481.9 1186.4zM497.2 1156.4L502.4 1150L511.1 1150L505.9 1156.4zM502.4 1150L506.7 1144.4L515.4 1144.4L511.1 1150zM511.4 1138.4L530.2 1114.4L538.9 1114.4L520.1 1138.4zM534.9 1108.4L537.5 1105.2L546.2 1105.2L543.6 1108.4zM537.5 1105.2L544 1096.4L552.7 1096.4L546.2 1105.2zM548.5 1090.4L566.4 1066.4L575.1 1066.4L557.2 1090.4zM570.2 1060.4L577.6 1048.4L586.3 1048.4L578.9 1060.4zM581.2 1042.4L592.9 1023.4L601.6 1023.4L589.9 1042.4zM597.3 1019L602.2 1014.7L602.2 1023.4L597.3 1027.8zM608.2 1009.4L620 999.1L620 1007.9L608.2 1018.1zM620 999.1L620.2 998.9L620.2 1007.6L620 1007.9zM626.2 993.3L640.3 980.1L640.3 988.9L626.2 1002zM640.3 980.1L650.2 975.3L650.2 984L640.3 988.9zM656.2 972.4L658.7 971.2L658.7 980L656.2 981.1zM658.7 971.2L668.2 973L668.2 981.7L658.7 980zM674.2 974L675.4 974.2L675.4 983L674.2 982.7zM671.1 978.6L681.8 955.8L690.5 955.8L679.8 978.6zM684.6 949.8L686.5 945.6L695.2 945.6L693.3 949.8zM686.5 945.6L690.8 937.8L699.5 937.8L695.2 945.6zM694.1 931.8L700.8 919.7L709.5 919.7L702.8 931.8zM709.5 919.7L712.8 931.6L704.1 931.6L700.8 919.7zM714.5 937.6L717.8 949.6L709.1 949.6L705.8 937.6zM719.5 955.6L722.8 967.6L714.1 967.6L710.8 955.6zM722.8 967.6L726.6 979.6L717.9 979.6L714.1 967.6zM728.6 985.6L732.4 997.6L723.7 997.6L719.9 985.6zM734.3 1003.6L735.2 1006.5L726.5 1006.5L725.6 1003.6zM726.5 1006.5L738.2 992.5L746.9 992.5L735.2 1006.5zM742.6 988.1L749.7 990.7L749.7 999.4L742.6 996.9zM758.7 998.6L763 1010.6L754.3 1010.6L750 998.6zM765.2 1016.6L768.4 1025.4L759.7 1025.4L756.5 1016.6zM768.4 1025.4L777.7 1040.6L769 1040.6L759.7 1025.4zM779.1 1035L783.3 1033.2L783.3 1041.9L779.1 1043.7zM779 1037.6L784.7 1029.8L793.4 1029.8L787.7 1037.6zM788.7 1023.8L796.5 1007.4L805.2 1007.4L797.4 1023.8zM805.2 1007.4L806.8 1015L798.1 1015L796.5 1007.4zM808.1 1021L810.8 1033L802.1 1033L799.4 1021zM812.1 1039L813.4 1045L804.7 1045L803.4 1039zM804.7 1045L812.6 1032.8L821.3 1032.8L813.4 1045zM812.6 1032.8L814.8 1027L823.5 1027L821.3 1032.8zM817.1 1021L820.1 1013.4L828.8 1013.4L825.8 1021zM828.8 1013.4L829.5 1017.8L820.8 1017.8L820.1 1013.4zM830.4 1023.8L834.2 1047.8L825.5 1047.8L821.7 1023.8zM835.1 1053.8L836.1 1060L827.4 1060L826.4 1053.8zM827.4 1060L828.2 1054.2L836.9 1054.2L836.1 1060zM829.1 1048.2L832.5 1024.2L841.2 1024.2L837.8 1048.2zM833.4 1018.2L834.4 1011L843.1 1011L842.1 1018.2zM843.1 1011L843.9 1015.8L835.2 1015.8L834.4 1011zM845 1021.8L849.1 1045.8L840.4 1045.8L836.3 1021.8zM850.1 1051.8L851.9 1063.8L843.2 1063.8L841.4 1051.8zM852.7 1069.8L856.2 1093.8L847.5 1093.8L844 1069.8zM859.4 1099.8L862.7 1105L854 1105L850.7 1099.8zM854 1105L855.4 1098.2L864.1 1098.2L862.7 1105zM856.6 1092.2L860.1 1075L868.8 1075L865.3 1092.2zM868.8 1075L872.9 1081.8L864.2 1081.8L860.1 1075zM876.1 1087.8L880.5 1096.8L871.8 1096.8L867.4 1087.8zM876.2 1092.5L879.2 1091.5L879.2 1100.2L876.2 1101.1zM887.3 1098.4L891.5 1110L882.8 1110L878.6 1098.4zM891.5 1110L895.2 1122.4L886.5 1122.4L882.8 1110zM897.1 1128.4L902 1135L893.3 1135L888.4 1128.4zM897.6 1130.7L902.6 1125.7L902.6 1134.3L897.6 1139.3zM907 1130L907 1130.4L898.3 1130.4L898.3 1130zM908.2 1136.4L911.8 1155L903.1 1155L899.5 1136.4z" fill="#008000"/><path shape-rendering="crispEdges" fill="#008000" d="M997 1155h9v3h-9zM1066 1188h9v3h-9z"/></g>
<g id="c-arkf"><path d="M196.5 1410L330.1 1379.1L330.1 1387.8L196.5 1418.6zM330.1 1379.1L408.2 1345.2L408.2 1353.8L330.1 1387.8zM408.2 1345.2L463.7 1312.4L463.7 1321L408.2 1353.8zM463.7 1312.4L506.7 1282.2L506.7 1290.9L463.7 1321zM506.7 1282.2L541.8 1252.4L541.8 1261L506.7 1290.9zM541.8 1252.4L571.6 1224.4L571.6 1233L541.8 1261zM567.2 1228.7L592.9 1201.8L601.6 1201.8L575.9 1228.7zM592.9 1201.8L615.6 1176.8L624.3 1176.8L601.6 1201.8zM615.6 1176.8L635.9 1154.9L644.6 1154.9L624.3 1176.8zM635.9 1154.9L654.3 1133.9L663 1133.9L644.6 1154.9zM654.3 1133.9L671.1 1117L679.8 1117L663 1133.9zM671.1 1117L686.5 1099L695.2 1099L679.8 1117zM686.5 1099L700.8 1083L709.5 1083L695.2 1099zM705.2 1078.7L718.4 1066.7L718.4 1075.3L705.2 1087.3zM718.4 1066.7L730.9 1060.7L730.9 1069.3L718.4 1075.3zM730.9 1060.7L742.6 1055.7L742.6 1064.3L730.9 1069.3zM742.6 1055.7L753.6 1053.7L753.6 1062.3L742.6 1064.3zM753.6 1053.7L764 1053.7L764 1062.3L753.6 1062.3zM764 1053.7L773.9 1057.7L773.9 1066.3L764 1062.3zM773.9 1057.7L783.3 1058.7L783.3 1067.3L773.9 1066.3zM779 1063L787.9 1051L796.6 1051L787.7 1063zM796.6 1051L805.2 1075L796.5 1075L787.9 1051zM796.5 1075L804.7 1045L813.4 1045L805.2 1075zM813.4 1045L821.3 1069L812.6 1069L804.7 1045zM812.6 1069L820.1 1039L828.8 1039L821.3 1069z" fill="#b23300"/><path d="M184.5 1402.3L189.5 1402.3L208.5 1421.3L208.5 1426.3L203.5 1426.3L184.5 1407.3zM208.5 1402.3L208.5 1407.3L189.5 1426.3L184.5 1426.3L184.5 1421.3L203.5 1402.3zM318.1 1371.4L323.1 1371.4L342.1 1390.4L342.1 1395.4L337.1 1395.4L318.1 1376.4zM342.1 1371.4L342.1 1376.4L323.1 1395.4L318.1 1395.4L318.1 1390.4L337.1 1371.4zM396.2 1337.5L401.2 1337.5L420.2 1356.5L420.2 1361.5L415.2 1361.5L396.2 1342.5zM420.2 1337.5L420.2 1342.5L401.2 1361.5L396.2 1361.5L396.2 1356.5L415.2 1337.5zM451.7 1304.7L456.7 1304.7L475.7 1323.7L475.7 1328.7L470.7 1328.7L451.7 1309.7zM475.7 1304.7L475.7 1309.7L456.7 1328.7L451.7 1328.7L451.7 1323.7L470.7 1304.7zM494.7 1274.6L499.7 1274.6L518.7 1293.6L518.7 1298.6L513.7 1298.6L494.7 1279.6zM518.7 1274.6L518.7 1279.6L499.7 1298.6L494.7 1298.6L494.7 1293.6L513.7 1274.6zM529.8 1244.7L534.8 1244.7L553.8 1263.7L553.8 1268.7L548.8 1268.7L529.8 1249.7zM553.8 1244.7L553.8 1249.7L534.8 1268.7L529.8 1268.7L529.8 1263.7L548.8 1244.7zM559.6 1216.7L564.6 1216.7L583.6 1235.7L583.6 1240.7L578.6 1240.7L559.6 1221.7zM583.6 1216.7L583.6 1221.7L564.6 1240.7L559.6 1240.7L559.6 1235.7L578.6 1216.7zM585.3 1189.8L590.3 1189.8L609.3 1208.8L609.3 1213.8L604.3 1213.8L585.3 1194.8zM609.3 1189.8L609.3 1194.8L590.3 1213.8L585.3 1213.8L585.3 1208.8L604.3 1189.8zM608 1164.8L613 1164.8L632 1183.8L632 1188.8L627 1188.8L608 1169.8zM632 1164.8L632 1169.8L613 1188.8L608 1188.8L608 1183.8L627 1164.8zM628.3 1142.9L633.3 1142.9L652.3 1161.9L652.3 1166.9L647.3 1166.9L628.3 1147.9zM652.3 1142.9L652.3 1147.9L633.3 1166.9L628.3 1166.9L628.3 1161.9L647.3 1142.9zM646.7 1121.9L651.7 1121.9L670.7 1140.9L670.7 1145.9L665.7 1145.9L646.7 1126.9zM670.7 1121.9L670.7 1126.9L651.7 1145.9L646.7 1145.9L646.7 1140.9L665.7 1121.9zM663.4 1105L668.4 1105L687.4 1124L687.4 1129L682.4 1129L663.4 1110zM687.4 1105L687.4 1110L668.4 1129L663.4 1129L663.4 1124L682.4 1105zM678.9 1087L683.9 1087L702.9 1106L702.9 1111L697.9 1111L678.9 1092zM702.9 1087L702.9 1092L683.9 1111L678.9 1111L678.9 1106L697.9 1087zM693.2 1071L698.2 1071L717.2 1090L717.2 1095L712.2 1095L693.2 1076zM717.2 1071L717.2 1076L698.2 1095L693.2 1095L693.2 1090L712.2 1071zM706.4 1059L711.4 1059L730.4 1078L730.4 1083L725.4 1083L706.4 1064zM730.4 1059L730.4 1064L711.4 1083L706.4 1083L706.4 1078L725.4 1059zM718.9 1053L723.9 1053L742.9 1072L742.9 1077L737.9 1077L718.9 1058zM742.9 1053L742.9 1058L723.9 1077L718.9 1077L718.9 1072L737.9 1053zM730.6 1048L735.6 1048L754.6 1067L754.6 1072L749.6 1072L730.6 1053zM754.6 1048L754.6 1053L735.6 1072L730.6 1072L730.6 1067L749.6 1048zM741.6 1046L746.6 1046L765.6 1065L765.6 1070L760.6 1070L741.6 1051zM765.6 1046L765.6 1051L746.6 1070L741.6 1070L741.6 1065L760.6 1046zM752 1046L757 1046L776 1065L776 1070L771 1070L752 1051zM776 1046L776 1051L757 1070L752 1070L752 1065L771 1046zM761.9 1050L766.9 1050L785.9 1069L785.9 1074L780.9 1074L761.9 1055zM785.9 1050L785.9 1055L766.9 1074L761.9 1074L761.9 1069L780.9 1050zM771.3 1051L776.3 1051L795.3 1070L795.3 1075L790.3 1075L771.3 1056zM795.3 1051L795.3 1056L776.3 1075L771.3 1075L771.3 1070L790.3 1051zM780.3 1039L785.3 1039L804.3 1058L804.3 1063L799.3 1063L780.3 1044zM804.3 1039L804.3 1044L785.3 1063L780.3 1063L780.3 1058L799.3 1039zM788.8 1063L793.8 1063L812.8 1082L812.8 1087L807.8 1087L788.8 1068zM812.8 1063L812.8 1068L793.8 1087L788.8 1087L788.8 1082L807.8 1063zM797 1033L802 1033L821 1052L821 1057L816 1057L797 1038zM821 1033L821 1038L802 1057L797 1057L797 1052L816 1033zM804.9 1057L809.9 1057L828.9 1076L828.9 1081L823.9 1081L804.9 1062zM828.9 1057L828.9 1062L809.9 1081L804.9 1081L804.9 1076L823.9 1057z" fill="#b23300"/><path shape-rendering="crispEdges" fill="#b23300" d="M1528 987h6v6h-6zM1537 990h6v3h-6zM1546 990h3v3h-3zM1552 990h9v3h-9zM1522 993h6v3h-6zM1543 993h3v3h-3zM1558 993h6v3h-6zM1522 996h3v3h-3zM1561 996h3v3h-3zM1519 999h6v3h-6zM1561 999h6v3h-6zM1519 1002h3v6h-3zM1516 1008h3v9h-3zM835 1014h6v3h-6zM853 1014h6v3h-6zM835 1017h9v3h-9zM850 1017h9v3h-9zM1513 1017h3v6h-3zM838 1020h18v3h-18zM841 1023h12v6h-12zM1510 1023h3v6h-3zM811 1026h6v3h-6zM829 1026h6v3h-6zM811 1029h9v3h-9zM826 1029h9v3h-9zM838 1029h18v3h-18zM1507 1029h3v6h-3zM814 1032h18v3h-18zM835 1032h24v3h-24zM817 1035h12v6h-12zM835 1035h15v3h-15zM853 1035h6v3h-6zM1501 1035h6v3h-6zM841 1038h9v6h-9zM1498 1038h6v3h-6zM1543 1038h15v3h-15zM814 1041h18v3h-18zM1498 1041h3v6h-3zM1546 1041h12v3h-12zM811 1044h24v3h-24zM838 1044h12v3h-12zM1552 1044h6v3h-6zM811 1047h6v3h-6zM820 1047h30v3h-30zM1495 1047h3v12h-3zM823 1050h27v3h-27zM826 1053h27v6h-27zM823 1059h30v3h-30zM1492 1059h3v9h-3zM820 1062h33v3h-33zM820 1065h6v3h-6zM829 1065h24v24h-24zM1489 1071h3v9h-3zM859 1077h6v3h-6zM877 1077h6v3h-6zM859 1080h9v3h-9zM874 1080h9v3h-9zM1486 1080h3v3h-3zM862 1083h18v3h-18zM892 1083h6v3h-6zM1483 1083h6v3h-6zM865 1086h18v3h-18zM889 1086h9v3h-9zM1480 1086h6v3h-6zM832 1089h21v15h-21zM865 1089h30v3h-30zM1477 1089h6v3h-6zM862 1092h30v3h-30zM1471 1092h6v3h-6zM859 1095h33v3h-33zM1468 1095h6v3h-6zM859 1098h36v3h-36zM1414 1098h3v3h-3zM1423 1098h3v3h-3zM1465 1098h3v6h-3zM862 1101h36v3h-36zM1405 1101h18v3h-18zM1426 1101h3v3h-3zM832 1104h27v3h-27zM862 1104h42v3h-42zM1405 1104h3v6h-3zM1411 1104h3v3h-3zM1420 1104h3v3h-3zM1429 1104h3v3h-3zM832 1107h45v3h-45zM880 1107h24v3h-24zM1432 1107h3v6h-3zM832 1110h12v3h-12zM847 1110h30v3h-30zM880 1110h21v3h-21zM1402 1110h3v6h-3zM1462 1110h3v9h-3zM826 1113h30v6h-30zM859 1113h18v6h-18zM880 1113h18v6h-18zM1399 1116h3v27h-3zM829 1119h48v3h-48zM880 1119h21v3h-21zM832 1122h12v6h-12zM847 1122h30v6h-30zM880 1122h24v6h-24zM1459 1122h3v12h-3zM829 1128h27v3h-27zM859 1128h18v3h-18zM880 1128h18v3h-18zM1441 1128h3v3h-3zM826 1131h9v3h-9zM841 1131h15v6h-15zM859 1131h9v6h-9zM871 1131h27v12h-27zM826 1134h6v3h-6zM1456 1134h3v6h-3zM841 1137h24v3h-24zM1447 1137h3v3h-3zM844 1140h21v3h-21zM1450 1140h6v3h-6zM847 1143h51v6h-51zM1396 1146h3v15h-3zM844 1149h21v3h-21zM868 1149h33v3h-33zM841 1152h24v3h-24zM871 1152h30v3h-30zM910 1152h6v3h-6zM841 1155h6v3h-6zM850 1155h15v3h-15zM871 1155h18v3h-18zM892 1155h9v3h-9zM907 1155h9v3h-9zM1342 1155h6v3h-6zM847 1158h42v3h-42zM892 1158h21v3h-21zM1330 1158h21v3h-21zM847 1161h63v3h-63zM1330 1161h15v3h-15zM1348 1161h9v3h-9zM850 1164h30v3h-30zM883 1164h27v3h-27zM1330 1164h9v3h-9zM1351 1164h9v3h-9zM1393 1164h3v6h-3zM853 1167h12v6h-12zM871 1167h6v3h-6zM889 1167h21v3h-21zM1207 1167h12v3h-12zM1330 1167h3v12h-3zM886 1170h12v3h-12zM1207 1170h18v3h-18zM850 1173h18v3h-18zM886 1173h3v3h-3zM895 1173h3v3h-3zM1030 1173h3v3h-3zM1222 1173h3v3h-3zM1366 1173h3v3h-3zM1390 1173h3v9h-3zM847 1176h9v3h-9zM862 1176h9v3h-9zM1033 1176h3v3h-3zM1366 1176h6v3h-6zM1426 1176h3v3h-3zM847 1179h6v3h-6zM865 1179h6v3h-6zM1204 1179h3v6h-3zM1369 1179h3v3h-3zM1432 1179h12v3h-12zM1450 1179h9v3h-9zM1327 1182h3v15h-3zM1387 1182h3v3h-3zM1444 1182h3v3h-3zM1201 1185h3v3h-3zM1381 1185h9v3h-9zM1378 1188h9v3h-9zM1198 1194h3v6h-3zM1243 1197h3v3h-3zM1249 1197h3v3h-3zM1255 1197h6v6h-6zM1264 1197h18v3h-18zM1288 1197h30v3h-30zM1321 1197h6v3h-6zM1168 1200h6v3h-6zM1243 1200h9v3h-9zM1264 1200h15v3h-15zM1294 1200h3v3h-3zM1312 1200h9v3h-9zM1162 1203h21v3h-21zM1186 1203h12v3h-12zM1240 1203h3v3h-3zM1249 1203h3v3h-3zM1270 1203h6v3h-6zM1162 1206h3v3h-3zM1168 1206h15v3h-15zM1186 1206h9v3h-9zM1270 1206h3v3h-3zM1168 1209h3v3h-3zM1174 1209h18v3h-18zM901 1212h3v3h-3zM1180 1212h3v3h-3zM1186 1212h3v3h-3zM1237 1212h3v6h-3zM901 1215h9v3h-9zM904 1218h9v3h-9zM1234 1218h3v3h-3zM904 1221h6v3h-6zM913 1221h6v3h-6zM937 1221h3v3h-3zM943 1221h3v6h-3zM910 1224h12v6h-12zM931 1224h9v3h-9zM958 1224h3v3h-3zM931 1227h33v3h-33zM913 1230h57v3h-57zM913 1233h60v3h-60zM922 1236h54v3h-54zM982 1236h6v3h-6zM928 1239h66v3h-66zM1348 1239h6v3h-6zM931 1242h66v3h-66zM1351 1242h3v3h-3zM934 1245h69v3h-69zM1351 1245h6v3h-6zM934 1248h6v3h-6zM943 1248h66v3h-66zM1354 1248h3v3h-3zM943 1251h69v3h-69zM949 1254h69v3h-69zM952 1257h69v3h-69zM1357 1257h3v3h-3zM958 1260h78v3h-78zM1363 1260h6v3h-6zM1378 1260h3v3h-3zM973 1263h69v3h-69zM976 1266h69v3h-69zM982 1269h63v3h-63zM1291 1269h15v3h-15zM988 1272h69v3h-69zM1303 1272h3v3h-3zM991 1275h66v3h-66zM997 1278h66v3h-66zM1306 1278h3v6h-3zM1003 1281h60v3h-60zM1003 1284h6v3h-6zM1015 1284h48v3h-48zM1117 1284h3v3h-3zM1123 1284h3v3h-3zM1318 1284h3v3h-3zM1021 1287h42v3h-42zM1105 1287h21v3h-21zM1189 1287h3v6h-3zM1207 1287h3v3h-3zM1246 1287h3v3h-3zM1315 1287h6v3h-6zM1024 1290h39v3h-39zM1102 1290h51v3h-51zM1210 1290h3v6h-3zM1249 1290h3v3h-3zM1051 1293h15v3h-15zM1096 1293h57v3h-57zM1255 1293h3v3h-3zM1060 1296h6v3h-6zM1096 1296h60v3h-60zM1213 1296h3v6h-3zM1252 1296h9v3h-9zM1093 1299h63v3h-63zM1168 1299h6v6h-6zM1225 1299h3v3h-3zM1237 1299h3v3h-3zM1087 1302h69v3h-69zM1222 1302h6v3h-6zM1261 1302h3v3h-3zM1267 1302h6v3h-6zM1087 1305h57v3h-57zM1162 1305h3v3h-3zM1168 1305h3v3h-3zM1216 1305h6v3h-6zM1102 1308h12v3h-12zM1120 1308h12v3h-12z"/></g>
<g id="c-ssa-and"><path d="M196.5 1431.9L330.1 1419L330.1 1427.6L196.5 1440.5zM330.1 1419L408.2 1407L408.2 1415.6L330.1 1427.6zM408.2 1407L463.7 1394L463.7 1402.6L408.2 1415.6zM463.7 1394L506.7 1381.1L506.7 1389.8L463.7 1402.6zM506.7 1381.1L541.8 1368.1L541.8 1376.8L506.7 1389.8zM541.8 1368.1L571.6 1356.1L571.6 1364.8L541.8 1376.8zM571.6 1356.1L597.3 1344.1L597.3 1352.8L571.6 1364.8zM597.3 1344.1L620 1331.1L620 1339.8L597.3 1352.8zM620 1331.1L640.3 1321.2L640.3 1329.8L620 1339.8zM640.3 1321.2L658.7 1309.2L658.7 1317.8L640.3 1329.8zM658.7 1309.2L675.4 1300.2L675.4 1308.8L658.7 1317.8zM675.4 1300.2L690.9 1290.2L690.9 1298.8L675.4 1308.8zM690.9 1290.2L705.2 1281.2L705.2 1289.9L690.9 1298.8zM705.2 1281.2L718.4 1273.2L718.4 1281.9L705.2 1289.9zM718.4 1273.2L730.9 1265.2L730.9 1273.9L718.4 1281.9zM730.9 1265.2L742.6 1258.2L742.6 1266.9L730.9 1273.9zM742.6 1258.2L753.6 1251.2L753.6 1259.9L742.6 1266.9zM753.6 1251.2L764 1245.4L764 1254L753.6 1259.9zM764 1245.4L773.9 1239.4L773.9 1248L764 1254zM773.9 1239.4L783.3 1234.2L783.3 1242.8L773.9 1248zM783.3 1234.2L792.3 1229.4L792.3 1238L783.3 1242.8zM792.3 1229.4L800.8 1224.7L800.8 1233.3L792.3 1238zM800.8 1224.7L809 1220.4L809 1229L800.8 1233.3zM809 1220.4L816.9 1216.4L816.9 1225L809 1229zM816.9 1216.4L824.5 1212.7L824.5 1221.3L816.9 1225zM824.5 1212.7L831.7 1209.2L831.7 1217.8L824.5 1221.3zM831.7 1209.2L838.7 1205.7L838.7 1214.3L831.7 1217.8zM838.7 1205.7L845.5 1202.7L845.5 1211.3L838.7 1214.3zM845.5 1202.7L852 1199.5L852 1208.1L845.5 1211.3z" fill="#ffff00"/><path d="M184.5 1424.2L189.5 1424.2L208.5 1443.2L208.5 1448.2L203.5 1448.2L184.5 1429.2zM208.5 1424.2L208.5 1429.2L189.5 1448.2L184.5 1448.2L184.5 1443.2L203.5 1424.2zM318.1 1411.3L323.1 1411.3L342.1 1430.3L342.1 1435.3L337.1 1435.3L318.1 1416.3zM342.1 1411.3L342.1 1416.3L323.1 1435.3L318.1 1435.3L318.1 1430.3L337.1 1411.3zM396.2 1399.3L401.2 1399.3L420.2 1418.3L420.2 1423.3L415.2 1423.3L396.2 1404.3zM420.2 1399.3L420.2 1404.3L401.2 1423.3L396.2 1423.3L396.2 1418.3L415.2 1399.3zM451.7 1386.3L456.7 1386.3L475.7 1405.3L475.7 1410.3L470.7 1410.3L451.7 1391.3zM475.7 1386.3L475.7 1391.3L456.7 1410.3L451.7 1410.3L451.7 1405.3L470.7 1386.3zM494.7 1373.4L499.7 1373.4L518.7 1392.4L518.7 1397.4L513.7 1397.4L494.7 1378.4zM518.7 1373.4L518.7 1378.4L499.7 1397.4L494.7 1397.4L494.7 1392.4L513.7 1373.4zM529.8 1360.4L534.8 1360.4L553.8 1379.4L553.8 1384.4L548.8 1384.4L529.8 1365.4zM553.8 1360.4L553.8 1365.4L534.8 1384.4L529.8 1384.4L529.8 1379.4L548.8 1360.4zM559.6 1348.4L564.6 1348.4L583.6 1367.4L583.6 1372.4L578.6 1372.4L559.6 1353.4zM583.6 1348.4L583.6 1353.4L564.6 1372.4L559.6 1372.4L559.6 1367.4L578.6 1348.4zM585.3 1336.4L590.3 1336.4L609.3 1355.4L609.3 1360.4L604.3 1360.4L585.3 1341.4zM609.3 1336.4L609.3 1341.4L590.3 1360.4L585.3 1360.4L585.3 1355.4L604.3 1336.4zM608 1323.4L613 1323.4L632 1342.4L632 1347.4L627 1347.4L608 1328.4zM632 1323.4L632 1328.4L613 1347.4L608 1347.4L608 1342.4L627 1323.4zM628.3 1313.5L633.3 1313.5L652.3 1332.5L652.3 1337.5L647.3 1337.5L628.3 1318.5zM652.3 1313.5L652.3 1318.5L633.3 1337.5L628.3 1337.5L628.3 1332.5L647.3 1313.5zM646.7 1301.5L651.7 1301.5L670.7 1320.5L670.7 1325.5L665.7 1325.5L646.7 1306.5zM670.7 1301.5L670.7 1306.5L651.7 1325.5L646.7 1325.5L646.7 1320.5L665.7 1301.5zM663.4 1292.5L668.4 1292.5L687.4 1311.5L687.4 1316.5L682.4 1316.5L663.4 1297.5zM687.4 1292.5L687.4 1297.5L668.4 1316.5L663.4 1316.5L663.4 1311.5L682.4 1292.5zM678.9 1282.5L683.9 1282.5L702.9 1301.5L702.9 1306.5L697.9 1306.5L678.9 1287.5zM702.9 1282.5L702.9 1287.5L683.9 1306.5L678.9 1306.5L678.9 1301.5L697.9 1282.5zM693.2 1273.6L698.2 1273.6L717.2 1292.6L717.2 1297.6L712.2 1297.6L693.2 1278.6zM717.2 1273.6L717.2 1278.6L698.2 1297.6L693.2 1297.6L693.2 1292.6L712.2 1273.6zM706.4 1265.6L711.4 1265.6L730.4 1284.6L730.4 1289.6L725.4 1289.6L706.4 1270.6zM730.4 1265.6L730.4 1270.6L711.4 1289.6L706.4 1289.6L706.4 1284.6L725.4 1265.6zM718.9 1257.6L723.9 1257.6L742.9 1276.6L742.9 1281.6L737.9 1281.6L718.9 1262.6zM742.9 1257.6L742.9 1262.6L723.9 1281.6L718.9 1281.6L718.9 1276.6L737.9 1257.6zM730.6 1250.6L735.6 1250.6L754.6 1269.6L754.6 1274.6L749.6 1274.6L730.6 1255.6zM754.6 1250.6L754.6 1255.6L735.6 1274.6L730.6 1274.6L730.6 1269.6L749.6 1250.6zM741.6 1243.6L746.6 1243.6L765.6 1262.6L765.6 1267.6L760.6 1267.6L741.6 1248.6zM765.6 1243.6L765.6 1248.6L746.6 1267.6L741.6 1267.6L741.6 1262.6L760.6 1243.6zM752 1237.7L757 1237.7L776 1256.7L776 1261.7L771 1261.7L752 1242.7zM776 1237.7L776 1242.7L757 1261.7L752 1261.7L752 1256.7L771 1237.7zM761.9 1231.7L766.9 1231.7L785.9 1250.7L785.9 1255.7L780.9 1255.7L761.9 1236.7zM785.9 1231.7L785.9 1236.7L766.9 1255.7L761.9 1255.7L761.9 1250.7L780.9 1231.7zM771.3 1226.5L776.3 1226.5L795.3 1245.5L795.3 1250.5L790.3 1250.5L771.3 1231.5zM795.3 1226.5L795.3 1231.5L776.3 1250.5L771.3 1250.5L771.3 1245.5L790.3 1226.5zM780.3 1221.7L785.3 1221.7L804.3 1240.7L804.3 1245.7L799.3 1245.7L780.3 1226.7zM804.3 1221.7L804.3 1226.7L785.3 1245.7L780.3 1245.7L780.3 1240.7L799.3 1221.7zM788.8 1217L793.8 1217L812.8 1236L812.8 1241L807.8 1241L788.8 1222zM812.8 1217L812.8 1222L793.8 1241L788.8 1241L788.8 1236L807.8 1217zM797 1212.7L802 1212.7L821 1231.7L821 1236.7L816 1236.7L797 1217.7zM821 1212.7L821 1217.7L802 1236.7L797 1236.7L797 1231.7L816 1212.7zM804.9 1208.7L809.9 1208.7L828.9 1227.7L828.9 1232.7L823.9 1232.7L804.9 1213.7zM828.9 1208.7L828.9 1213.7L809.9 1232.7L804.9 1232.7L804.9 1227.7L823.9 1208.7zM812.5 1205L817.5 1205L836.5 1224L836.5 1229L831.5 1229L812.5 1210zM836.5 1205L836.5 1210L817.5 1229L812.5 1229L812.5 1224L831.5 1205zM819.7 1201.5L824.7 1201.5L843.7 1220.5L843.7 1225.5L838.7 1225.5L819.7 1206.5zM843.7 1201.5L843.7 1206.5L824.7 1225.5L819.7 1225.5L819.7 1220.5L838.7 1201.5zM826.7 1198L831.7 1198L850.7 1217L850.7 1222L845.7 1222L826.7 1203zM850.7 1198L850.7 1203L831.7 1222L826.7 1222L826.7 1217L845.7 1198zM833.5 1195L838.5 1195L857.5 1214L857.5 1219L852.5 1219L833.5 1200zM857.5 1195L857.5 1200L838.5 1219L833.5 1219L833.5 1214L852.5 1195z" fill="#ffff00"/><path shape-rendering="crispEdges" fill="#ffff00" d="M1534 990h3v3h-3zM1549 990h3v3h-3zM1528 993h15v3h-15zM1546 993h12v3h-12zM1525 996h36v6h-36zM1522 1002h42v3h-42zM1522 1005h45v3h-45zM1519 1008h51v9h-51zM1516 1017h54v6h-54zM1513 1023h54v3h-54zM1513 1026h57v3h-57zM1510 1029h60v6h-60zM1507 1035h51v3h-51zM1564 1035h6v3h-6zM1504 1038h39v3h-39zM1501 1041h42v3h-42zM1501 1044h39v3h-39zM1498 1047h39v6h-39zM1498 1053h36v6h-36zM1495 1059h36v3h-36zM1495 1062h33v6h-33zM1492 1068h36v3h-36zM1492 1071h33v6h-33zM1492 1077h30v3h-30zM1489 1080h33v3h-33zM1489 1083h30v3h-30zM1486 1086h33v3h-33zM1483 1089h36v3h-36zM1477 1092h39v3h-39zM1474 1095h42v3h-42zM1468 1098h48v3h-48zM1423 1101h3v3h-3zM1468 1101h45v3h-45zM1408 1104h3v3h-3zM1414 1104h6v3h-6zM1423 1104h6v3h-6zM1465 1104h48v6h-48zM1408 1107h24v3h-24zM1405 1110h27v3h-27zM1465 1110h45v3h-45zM1405 1113h30v3h-30zM1465 1113h42v6h-42zM1402 1116h36v9h-36zM1462 1119h45v3h-45zM1462 1122h42v9h-42zM1402 1125h39v6h-39zM1402 1131h42v3h-42zM1462 1131h39v3h-39zM1402 1134h45v6h-45zM1459 1134h42v3h-42zM1459 1137h39v3h-39zM1402 1140h48v3h-48zM1456 1140h39v3h-39zM1399 1143h96v6h-96zM1399 1149h93v6h-93zM931 1152h9v3h-9zM943 1152h3v3h-3zM952 1152h3v3h-3zM931 1155h15v3h-15zM952 1155h12v3h-12zM1399 1155h90v3h-90zM928 1158h36v3h-36zM970 1158h6v3h-6zM982 1158h3v3h-3zM994 1158h15v3h-15zM1015 1158h6v3h-6zM1399 1158h87v3h-87zM925 1161h102v3h-102zM1345 1161h3v3h-3zM1396 1161h87v3h-87zM916 1164h114v3h-114zM1339 1164h12v3h-12zM1396 1164h84v3h-84zM910 1167h120v3h-120zM1333 1167h27v3h-27zM1396 1167h81v3h-81zM898 1170h132v6h-132zM1333 1170h33v9h-33zM1393 1170h81v3h-81zM889 1173h6v3h-6zM1207 1173h15v3h-15zM1393 1173h78v3h-78zM883 1176h150v3h-150zM1207 1176h21v9h-21zM1393 1176h30v6h-30zM1429 1176h36v3h-36zM871 1179h165v3h-165zM1330 1179h39v3h-39zM1444 1179h6v3h-6zM865 1182h171v3h-171zM1330 1182h42v3h-42zM1390 1182h33v3h-33zM865 1185h174v3h-174zM1204 1185h24v3h-24zM1330 1185h45v6h-45zM1390 1185h30v3h-30zM868 1188h174v3h-174zM1201 1188h27v3h-27zM1387 1188h33v3h-33zM841 1191h201v6h-201zM1201 1191h30v9h-30zM1330 1191h90v3h-90zM1060 1194h18v3h-18zM1330 1194h87v3h-87zM844 1197h201v3h-201zM1057 1197h30v3h-30zM1327 1197h90v3h-90zM847 1200h198v3h-198zM1057 1200h39v3h-39zM1198 1200h33v6h-33zM1252 1200h3v3h-3zM1261 1200h3v3h-3zM1279 1200h15v3h-15zM1297 1200h15v3h-15zM1321 1200h96v3h-96zM847 1203h249v3h-249zM1243 1203h6v3h-6zM1252 1203h18v3h-18zM1276 1203h141v3h-141zM844 1206h255v3h-255zM1165 1206h3v3h-3zM1195 1206h36v3h-36zM1240 1206h30v3h-30zM1273 1206h141v3h-141zM841 1209h261v3h-261zM1156 1209h3v3h-3zM1162 1209h6v3h-6zM1171 1209h3v3h-3zM1192 1209h39v3h-39zM1240 1209h174v9h-174zM841 1212h45v3h-45zM904 1212h204v3h-204zM1150 1212h30v3h-30zM1183 1212h3v3h-3zM1189 1212h42v3h-42zM859 1215h6v3h-6zM874 1215h9v3h-9zM910 1215h201v3h-201zM1114 1215h15v3h-15zM1150 1215h84v6h-84zM874 1218h3v3h-3zM913 1218h225v3h-225zM1141 1218h6v3h-6zM1237 1218h174v3h-174zM919 1221h18v3h-18zM940 1221h3v6h-3zM946 1221h465v3h-465zM922 1224h9v6h-9zM946 1224h9v3h-9zM961 1224h9v3h-9zM973 1224h438v3h-438zM976 1227h435v6h-435zM979 1233h429v3h-429zM979 1236h3v3h-3zM988 1236h12v3h-12zM1003 1236h405v3h-405zM994 1239h3v3h-3zM1006 1239h342v3h-342zM1354 1239h54v3h-54zM1009 1242h339v3h-339zM1354 1242h51v3h-51zM1012 1245h336v3h-336zM1357 1245h48v3h-48zM1012 1248h333v6h-333zM1357 1248h45v6h-45zM1021 1254h324v3h-324zM1357 1254h42v3h-42zM1021 1257h9v3h-9zM1042 1257h300v9h-300zM1360 1257h36v3h-36zM1372 1260h6v3h-6zM1381 1260h12v3h-12zM1381 1263h3v3h-3zM1387 1263h6v3h-6zM1045 1266h297v3h-297zM1045 1269h246v3h-246zM1306 1269h36v6h-36zM1057 1272h234v6h-234zM1306 1275h33v3h-33zM1063 1278h228v6h-228zM1309 1278h30v3h-30zM1309 1281h27v3h-27zM1063 1284h54v3h-54zM1120 1284h3v3h-3zM1126 1284h165v3h-165zM1309 1284h9v3h-9zM1321 1284h15v3h-15zM1063 1287h42v3h-42zM1126 1287h63v3h-63zM1192 1287h15v3h-15zM1210 1287h36v3h-36zM1249 1287h39v3h-39zM1309 1287h6v3h-6zM1321 1287h12v3h-12zM1063 1290h39v3h-39zM1153 1290h30v6h-30zM1192 1290h3v3h-3zM1213 1290h30v6h-30zM1252 1290h36v3h-36zM1066 1293h30v6h-30zM1252 1293h3v3h-3zM1258 1293h30v3h-30zM1156 1296h27v3h-27zM1216 1296h27v3h-27zM1261 1296h27v3h-27zM1066 1299h27v3h-27zM1156 1299h12v6h-12zM1174 1299h6v3h-6zM1216 1299h9v3h-9zM1228 1299h9v6h-9zM1261 1299h24v3h-24zM1066 1302h21v6h-21zM1216 1302h6v3h-6zM1276 1302h3v3h-3zM1066 1308h9v6h-9zM1078 1308h3v3h-3zM1084 1308h3v3h-3z"/></g>
</g>
<g id="labels" fill="#2b2b2b">
<text transform="translate(175,1472.6) scale(1,1.04)" font-size="53" text-anchor="end">0</text>
<text transform="translate(175,1332.5) scale(1,1.04)" font-size="53" text-anchor="end">0.2</text>
<text transform="translate(175,1192.2) scale(1,1.04)" font-size="53" text-anchor="end">0.4</text>
<text transform="translate(175,1051.8) scale(1,1.04)" font-size="53" text-anchor="end">0.6</text>
<text transform="translate(175,908.2) scale(1,1.04)" font-size="53" text-anchor="end">0.8</text>
<text transform="translate(175,767.8) scale(1,1.04)" font-size="53" text-anchor="end">1</text>
<text transform="translate(175,630.1) scale(1,1.04)" font-size="53" text-anchor="end">1.2</text>
<text transform="translate(175,489.7) scale(1,1.04)" font-size="53" text-anchor="end">1.4</text>
<text transform="translate(175,349.2) scale(1,1.04)" font-size="53" text-anchor="end">1.6</text>
<text transform="translate(175,208.7) scale(1,1.04)" font-size="53" text-anchor="end">1.8</text>
<text transform="translate(175,68.2) scale(1,1.04)" font-size="53" text-anchor="end">2</text>
<text transform="translate(156.0,1533.8) scale(1,1.04)" font-size="51">10<tspan font-size="38" dx="2.5" dy="-23.4">0</tspan></text>
<text transform="translate(598.1,1533.8) scale(1,1.04)" font-size="51">10<tspan font-size="38" dx="2.5" dy="-23.4">1</tspan></text>
<text transform="translate(1043.6,1533.8) scale(1,1.04)" font-size="51">10<tspan font-size="38" dx="2.5" dy="-23.4">2</tspan></text>
<text transform="translate(1486.0,1533.8) scale(1,1.04)" font-size="51">10<tspan font-size="38" dx="2.5" dy="-23.4">3</tspan></text>
<text transform="translate(1931.0,1533.8) scale(1,1.04)" font-size="51">10<tspan font-size="38" dx="2.5" dy="-23.4">4</tspan></text>
<text transform="translate(1084,1608.7) scale(1,1.045)" font-size="54" text-anchor="middle">Averaging time (s)</text>
<text transform="translate(75.5,748) rotate(-90) scale(1,1.045)" font-size="54" text-anchor="middle">Allan Variance (°/h)</text>
</g>
<g id="legend">
<rect x="1506.6" y="85.7" width="427.3" height="396.3" fill="#fff" stroke="#111" stroke-width="3.2" shape-rendering="crispEdges"/>
<line x1="1517.0" y1="124.4" x2="1609.5" y2="124.4" stroke="#0000ff" stroke-width="8.5"/>
<line x1="1517.0" y1="187.2" x2="1609.5" y2="187.2" stroke="#ff0000" stroke-width="8.5" stroke-dasharray="26.5 21.5"/>
<line x1="1517.0" y1="252.8" x2="1609.5" y2="252.8" stroke="#e000c8" stroke-width="8.5" stroke-dasharray="6 6"/>
<line x1="1517.0" y1="315.7" x2="1609.5" y2="315.7" stroke="#008000" stroke-width="8.5" stroke-dasharray="26 4 13 6"/>
<line x1="1517.0" y1="380.8" x2="1609.5" y2="380.8" stroke="#b23300" stroke-width="8.5"/>
<path d="M1549.7 368.8L1554.7 368.8L1573.7 387.8L1573.7 392.8L1568.7 392.8L1549.7 373.8z" fill="#b23300"/>
<path d="M1568.7 368.8L1549.7 387.8L1549.7 392.8L1554.7 392.8L1573.7 373.8L1573.7 368.8z" fill="#b23300"/>
<line x1="1517.0" y1="443.9" x2="1609.5" y2="443.9" stroke="#ffff00" stroke-width="8.5"/>
<path d="M1549.7 431.9L1554.7 431.9L1573.7 450.9L1573.7 455.9L1568.7 455.9L1549.7 436.9z" fill="#ffff00"/>
<path d="M1568.7 431.9L1549.7 450.9L1549.7 455.9L1554.7 455.9L1573.7 436.9L1573.7 431.9z" fill="#ffff00"/>
<g fill="#2b2b2b" font-size="48">
<text transform="translate(1614.5,143.3) scale(1,1.04)">Original signal</text>
<text transform="translate(1614.5,206.6) scale(1,1.04)">AND</text>
<text transform="translate(1614.5,271.4) scale(1,1.04)">DFA-VMD</text>
<text transform="translate(1614.5,334.6) scale(1,1.04)">EMD-FLP</text>
<text transform="translate(1614.5,400.0) scale(1,1.04)">ARKF</text>
<text transform="translate(1614.5,463.2) scale(1,1.04)">SSA-AND</text>
</g>
</g>
</g>
<rect x="1993.5" y="0" width="27.5" height="1654" fill="#fff"/>
</svg>
</body></html>
